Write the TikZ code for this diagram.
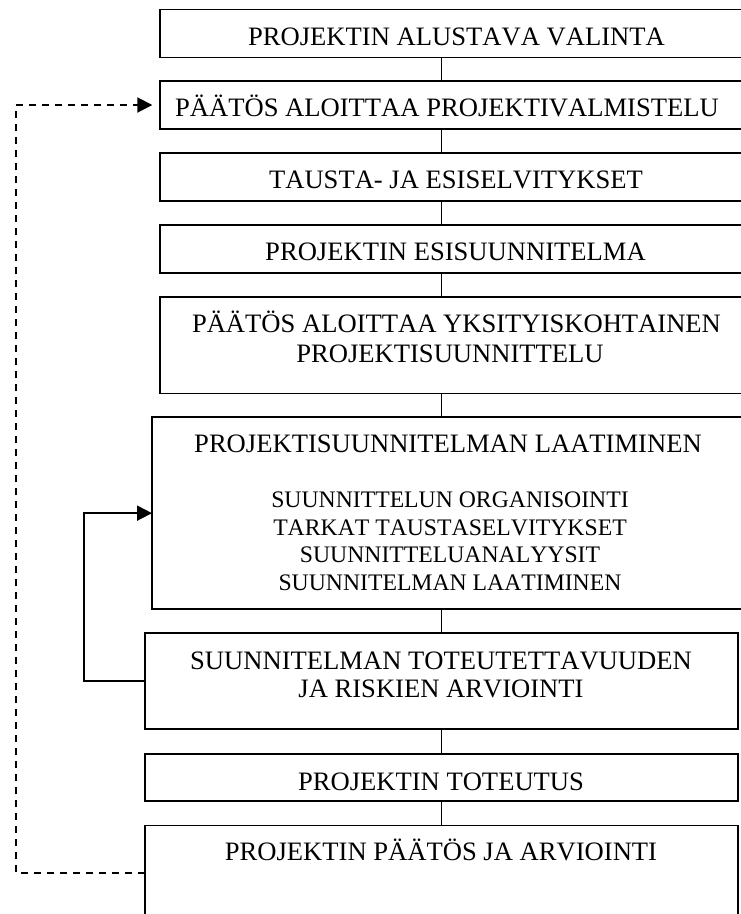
\documentclass[tikz,border=0pt]{standalone}
\usepackage{fontspec}
\setmainfont[Kerning=Off]{Liberation Serif}
\usetikzlibrary{arrows.meta,calc}
\begin{document}
\begin{tikzpicture}[x=1pt,y=-1pt,
  stage/.style={draw,line width=1.9pt,rectangle,inner sep=0pt,outer sep=0pt},
  lbl/.style={anchor=base,inner sep=0pt,font=\fontsize{26.6}{30}\selectfont},
  sublbl/.style={anchor=base,inner sep=0pt,font=\fontsize{23.7}{27}\selectfont},
  link/.style={line width=1.9pt},
  tip/.style={-{Triangle[length=15pt,width=15pt]}},
  back/.style={line width=1.9pt,dash pattern=on 7pt off 6pt}]
\clip (0,0) rectangle (741,914);

% stage boxes (the upper ones run past the right edge)
\node[stage,minimum width=593pt,minimum height=48pt]   (b1) at (456.5,33.5) {};
\node[stage,minimum width=593pt,minimum height=48pt]   (b2) at (456.5,105) {};
\node[stage,minimum width=593pt,minimum height=48pt]   (b3) at (456.5,177) {};
\node[stage,minimum width=593pt,minimum height=48pt]   (b4) at (456.5,249) {};
\node[stage,minimum width=593pt,minimum height=96.5pt] (b5) at (456.5,345.25) {};
\node[stage,minimum width=592pt,minimum height=192.3pt] (b6) at (448,513.15) {};
\node[stage,minimum width=593pt,minimum height=96.3pt] (b7) at (441.5,681.15) {};
\node[stage,minimum width=593pt,minimum height=47.3pt] (b8) at (441.5,777.65) {};
\node[stage,minimum width=593pt,minimum height=95pt]   (b9) at (441.5,873) {};

% box texts
\node[lbl] (t1) at (456.5,45) {PROJEKTIN ALUSTAVA VALINTA};
\node[lbl] (t2) at (447,116.7) {PÄÄTÖS ALOITTAA PROJEKTIVALMISTELU};
\node[lbl] (t3) at (456,188.3) {TAUSTA- JA ESISELVITYKSET};
\node[lbl] (t4) at (455.5,260.7) {PROJEKTIN ESISUUNNITELMA};
\node[lbl] (t5a) at (456.5,332.7) {PÄÄTÖS ALOITTAA YKSITYISKOHTAINEN};
\node[lbl] (t5b) at (450,362.7) {PROJEKTISUUNNITTELU};
\node[lbl] (t6) at (448,452.7) {PROJEKTISUUNNITELMAN LAATIMINEN};
\node[sublbl] (t6a) at (450,507.7) {SUUNNITTELUN ORGANISOINTI};
\node[sublbl] (t6b) at (450,535) {TARKAT TAUSTASELVITYKSET};
\node[sublbl] (t6c) at (450,562.7) {SUUNNITTELUANALYYSIT};
\node[sublbl] (t6d) at (450,590) {SUUNNITELMAN LAATIMINEN};
\node[lbl] (t7a) at (441,669) {SUUNNITELMAN TOTEUTETTAVUUDEN};
\node[lbl] (t7b) at (441,697) {JA RISKIEN ARVIOINTI};
\node[lbl] (t8) at (441,790) {PROJEKTIN TOTEUTUS};
\node[lbl] (t9) at (441,860) {PROJEKTIN PÄÄTÖS JA ARVIOINTI};

% main sequence
\foreach \a/\b in {b1/b2,b2/b3,b3/b4,b4/b5,b5/b6,b6/b7,b7/b8,b8/b9}
  \draw[link] (\a.south -| b7.center) -- (\b.north -| b7.center);

% revision loop back to the planning stage
\draw[link,tip] (b7.west) -- ++(-61,0) |- (b6.west);

% feedback from closing back to the start of preparation
\draw[back,tip,shorten >=7.7pt] (b9.west) -- ++(-129,0) |- (b2.west);
\end{tikzpicture}
\end{document}
